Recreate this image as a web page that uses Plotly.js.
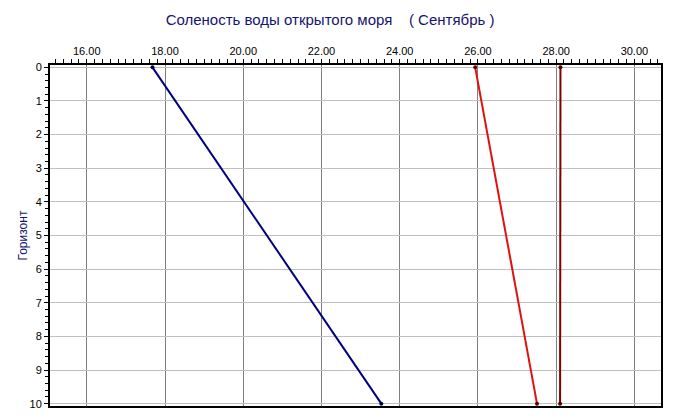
<!DOCTYPE html>
<html>
<head>
<meta charset="utf-8">
<script src="https://cdn.plot.ly/plotly-3.0.1.min.js"></script>
<style>html,body{margin:0;padding:0;background:#fff;}#chart{width:675px;height:419px;}</style>
</head>
<body>
<div id="chart"></div>
<script>
const depths = [0, 10];
const seriesBlue = [17.68, 23.53];
const seriesRed = [25.93, 27.51];
const seriesDarkRed = [28.11, 28.10];
const yTickVals = [0,1,2,3,4,5,6,7,8,9,10];

function tr(x, lineColor, markerColor) {
  return {
    x: x, y: depths, type: 'scatter', mode: 'lines+markers',
    line: {color: lineColor, width: 2},
    marker: {color: markerColor, size: 4},
    cliponaxis: false, hoverinfo: 'skip', showlegend: false
  };
}

const data = [
  tr(seriesBlue, '#000080', '#000050'),
  tr(seriesRed, '#e01010', '#600000'),
  tr(seriesDarkRed, '#800000', '#500000')
];

const layout = {
  width: 675, height: 419,
  margin: {l: 50, r: 14, t: 65, b: 13},
  paper_bgcolor: '#ffffff', plot_bgcolor: '#ffffff',
  font: {family: 'Liberation Sans, Arial, sans-serif', size: 11, color: '#000000'},
  title: {
    text: 'Соленость воды открытого моря \u00a0\u00a0 ( Сентябрь )',
    font: {family: 'Liberation Sans, Arial, sans-serif', size: 15, color: '#14146e'},
    x: 0.489, xanchor: 'center', xref: 'container',
    y: 0.952, yanchor: 'middle', yref: 'container'
  },
  xaxis: {
    side: 'top', range: [15.06, 30.68], tick0: 16, dtick: 2,
    tickformat: '.2f', ticks: 'outside', ticklen: 4, tickcolor: '#000',
    showgrid: true, gridcolor: '#808080', gridwidth: 1,
    showline: true, linecolor: '#000', linewidth: 2, mirror: true,
    zeroline: false,
    minor: {dtick: 0.2, ticks: 'outside', ticklen: 4, tickcolor: '#000', showgrid: false},
    tickfont: {size: 11, color: '#000'}
  },
  yaxis: {
    range: [10.07, -0.07], tickvals: yTickVals,
    ticks: 'outside', ticklen: 4, tickcolor: '#000',
    showgrid: true, gridcolor: '#c0c0c0', gridwidth: 1,
    showline: true, linecolor: '#000', linewidth: 2, mirror: true,
    zeroline: false,
    minor: {dtick: 0.2, ticks: 'outside', ticklen: 3, tickcolor: '#000', showgrid: false},
    tickfont: {size: 11, color: '#000'}
  },
  annotations: [{
    text: 'Горизонт', xref: 'paper', yref: 'paper', x: 0, y: 0.5,
    xanchor: 'center', yanchor: 'middle', xshift: -28, textangle: -90,
    showarrow: false, font: {family: 'Liberation Sans, Arial, sans-serif', size: 12, color: '#14146e'}
  }]
};

Plotly.newPlot('chart', data, layout, {displayModeBar: false, staticPlot: true});
</script>
</body>
</html>
